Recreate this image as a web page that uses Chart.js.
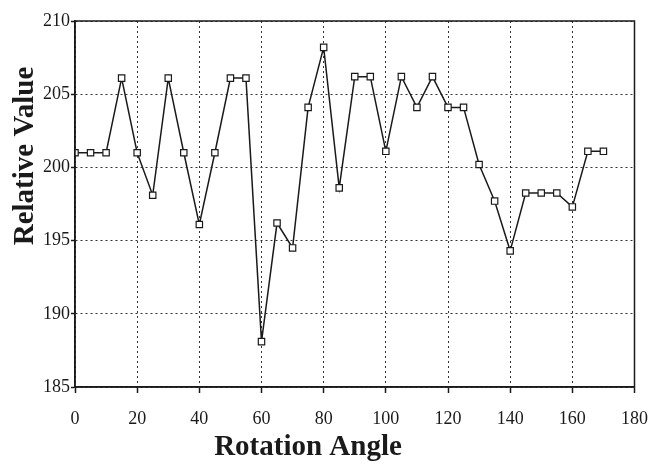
<!DOCTYPE html>
<html>
<head>
<meta charset="utf-8">
<script src="https://cdn.jsdelivr.net/npm/chart.js@4.4.1/dist/chart.umd.min.js"></script>
<style>
  html, body { margin: 0; padding: 0; background: #fff; }
  #wrap { width: 663px; height: 465px; position: relative; }
</style>
</head>
<body>
<div id="wrap"><canvas id="chart"></canvas></div>
<script>
// rotation angle (degrees) and relative value
const angles = [0, 5, 10, 15, 20, 25, 30, 35, 40, 45, 50, 55, 60, 65, 70, 75, 80, 85,
                90, 95, 100, 105, 110, 115, 120, 125, 130, 135, 140, 145, 150, 155, 160, 165, 170];
const values = [201, 201, 201, 206.1, 201, 198.1, 206.1, 201, 196.1, 201, 206.1, 206.1, 188.1, 196.2, 194.5, 204.1, 208.2, 198.6,
                206.2, 206.2, 201.1, 206.2, 204.1, 206.2, 204.1, 204.1, 200.2, 197.7, 194.3, 198.25, 198.25, 198.25, 197.3, 201.1, 201.1];
const xTicks = [0, 20, 40, 60, 80, 100, 120, 140, 160, 180];
const yTicks = [185, 190, 195, 200, 205, 210];

const xTitle = 'Rotation Angle';
const yTitle = 'Relative Value';

const serif = '"Liberation Serif", "Times New Roman", serif';
const ink = '#1a1a1a';

// solid frame round the plot area plus the two axis titles
const framePlugin = {
    id: 'frame',
    afterDraw(chart) {
        const { ctx, chartArea: a } = chart;
        ctx.save();
        ctx.strokeStyle = ink;
        ctx.lineWidth = 1.5;
        ctx.strokeRect(a.left, a.top, a.right - a.left, a.bottom - a.top);

        ctx.fillStyle = ink;
        ctx.font = 'bold 29px ' + serif;
        ctx.textAlign = 'center';
        ctx.textBaseline = 'alphabetic';
        ctx.fillText(xTitle, 308, 455);

        ctx.translate(33, 156);
        ctx.rotate(-Math.PI / 2);
        ctx.fillText(yTitle, 0, 0);
        ctx.restore();
    }
};

new Chart(document.getElementById('chart'), {
    type: 'line',
    data: {
        datasets: [{
            data: angles.map((a, i) => ({ x: a, y: values[i] })),
            borderColor: ink,
            borderWidth: 1.5,
            tension: 0,
            pointStyle: 'rect',
            pointRadius: 4.5,
            pointBorderWidth: 1.2,
            pointBackgroundColor: '#fff',
            pointBorderColor: ink
        }]
    },
    options: {
        responsive: true,
        maintainAspectRatio: false,
        animation: false,
        layout: { padding: { left: 12, right: 26, top: 21, bottom: 9 } },
        plugins: {
            legend: { display: false },
            tooltip: { enabled: false }
        },
        scales: {
            x: {
                type: 'linear',
                min: 0,
                max: 180,
                afterBuildTicks: s => { s.ticks = xTicks.map(v => ({ value: v })); },
                afterFit: s => { s.height = 69; },
                ticks: {
                    color: ink,
                    padding: 15,
                    maxRotation: 0,
                    font: { family: serif, size: 18 }
                },
                grid: {
                    color: '#333',
                    lineWidth: 1,
                    tickLength: 6,
                    tickColor: ink,
                    tickWidth: 1.5
                },
                border: { color: ink, width: 1.5, dash: [2, 3] }
            },
            y: {
                min: 185,
                max: 210,
                afterBuildTicks: s => { s.ticks = yTicks.map(v => ({ value: v })); },
                afterFit: s => { s.width = 63; },
                ticks: {
                    color: ink,
                    padding: 1,
                    font: { family: serif, size: 18 }
                },
                grid: {
                    color: '#333',
                    lineWidth: 1,
                    tickLength: 4,
                    tickColor: ink,
                    tickWidth: 1.5
                },
                border: { color: ink, width: 1.5, dash: [2, 3] }
            }
        }
    },
    plugins: [framePlugin]
});
</script>
</body>
</html>
